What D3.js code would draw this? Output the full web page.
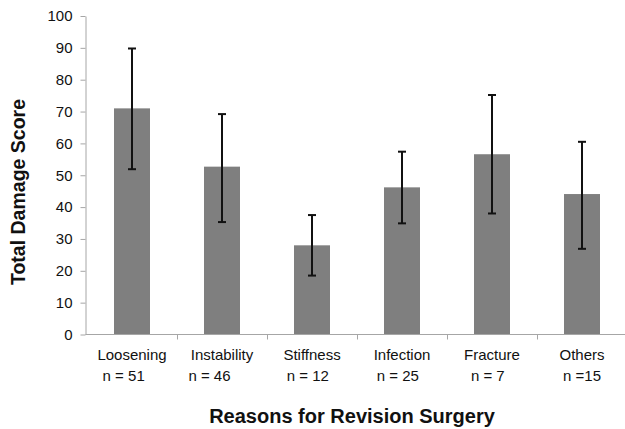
<!DOCTYPE html>
<html>
<head>
<meta charset="utf-8">
<script src="https://cdn.jsdelivr.net/npm/d3@7"></script>
<style>
  body { margin: 0; background: #fff; }
  svg { display: block; font-family: Arial, "Liberation Sans", sans-serif; }
</style>
</head>
<body>
<div id="chart"></div>
<script>
// values
var categories = ["Loosening", "Instability", "Stiffness", "Infection", "Fracture", "Others"];
var countLabels = ["n = 51    ", "n = 46      ", "n = 12  ", "n = 25  ", "n = 7  ", "n =15"];
var meanScore = [71.0, 52.7, 28.0, 46.2, 56.6, 44.1];
var errUpper = [89.8, 69.2, 37.5, 57.4, 75.2, 60.5];
var errLower = [51.9, 35.3, 18.5, 34.9, 38.0, 26.9];
var yTicks = [0, 10, 20, 30, 40, 50, 60, 70, 80, 90, 100];

var width = 625, height = 429;
var margin = { top: 16, right: -2, bottom: 94, left: 87 };
var axisX = 85.5;

var data = categories.map((c, i) => ({
    cat: c, n: countLabels[i], mean: meanScore[i], hi: errUpper[i], lo: errLower[i]
}));

const svg = d3.select("#chart").append("svg")
    .attr("width", width)
    .attr("height", height);

var x = d3.scaleBand()
    .domain(categories)
    .range([margin.left, width - margin.right])
    .paddingInner(0.6)
    .paddingOuter(0.3);

var y = d3.scaleLinear()
    .domain([0, 100])
    .range([height - margin.bottom - 0.5, margin.top]);

var axisColor = "#a6a6a6";

// bars
svg.append("g")
    .selectAll("rect")
    .data(data)
    .enter().append("rect")
    .attr("x", d => x(d.cat))
    .attr("y", d => y(d.mean))
    .attr("width", x.bandwidth())
    .attr("height", d => y(0) - y(d.mean))
    .attr("fill", "#7f7f7f");

// y axis
var yAxis = svg.append("g")
    .attr("transform", `translate(${axisX},0)`)
    .call(d3.axisLeft(y).tickValues(yTicks).tickSize(5).tickPadding(8).tickSizeOuter(0));
yAxis.select(".domain").attr("stroke", axisColor);
yAxis.selectAll(".tick line").attr("stroke", axisColor);
yAxis.selectAll(".tick text")
    .attr("fill", "#111")
    .style("font-size", "15px");

// x axis line and ticks at band boundaries
var xg = svg.append("g");
xg.append("line")
    .attr("x1", axisX).attr("x2", width)
    .attr("y1", y(0)).attr("y2", y(0))
    .attr("stroke", axisColor);
xg.selectAll("line.tk")
    .data(categories.slice(1))
    .enter().append("line")
    .attr("class", "tk")
    .attr("x1", d => Math.round(x(d) - x.step() * x.paddingInner() / 2) + 0.5)
    .attr("x2", d => Math.round(x(d) - x.step() * x.paddingInner() / 2) + 0.5)
    .attr("y1", y(0)).attr("y2", y(0) + 5)
    .attr("stroke", axisColor);

// category labels (two lines)
var lab = svg.append("g")
    .selectAll("g")
    .data(data)
    .enter().append("g")
    .attr("transform", d => `translate(${x(d.cat) + x.bandwidth() / 2},0)`);
lab.append("text")
    .attr("y", y(0) + 25)
    .attr("text-anchor", "middle")
    .attr("fill", "#111")
    .style("font-size", "15px")
    .text(d => d.cat);
lab.append("text")
    .attr("y", y(0) + 46)
    .attr("text-anchor", "middle")
    .attr("fill", "#111")
    .style("font-size", "15px")
    .style("white-space", "pre")
    .attr("xml:space", "preserve")
    .text(d => d.n);

// error bars
var eb = svg.append("g")
    .selectAll("g")
    .data(data)
    .enter().append("g")
    .attr("stroke", "#111")
    .attr("stroke-width", 2);
eb.append("line")
    .attr("x1", d => x(d.cat) + x.bandwidth() / 2)
    .attr("x2", d => x(d.cat) + x.bandwidth() / 2)
    .attr("y1", d => y(d.hi))
    .attr("y2", d => y(d.lo));
eb.append("line")
    .attr("x1", d => x(d.cat) + x.bandwidth() / 2 - 4)
    .attr("x2", d => x(d.cat) + x.bandwidth() / 2 + 4)
    .attr("y1", d => y(d.hi))
    .attr("y2", d => y(d.hi));
eb.append("line")
    .attr("x1", d => x(d.cat) + x.bandwidth() / 2 - 4)
    .attr("x2", d => x(d.cat) + x.bandwidth() / 2 + 4)
    .attr("y1", d => y(d.lo))
    .attr("y2", d => y(d.lo));

// axis titles
svg.append("text")
    .attr("transform", "translate(25,192) rotate(-90)")
    .attr("text-anchor", "middle")
    .attr("fill", "#111")
    .style("font-size", "19.5px")
    .style("font-weight", "bold")
    .text("Total Damage Score");

svg.append("text")
    .attr("x", 352)
    .attr("y", 423)
    .attr("text-anchor", "middle")
    .attr("fill", "#111")
    .style("font-size", "20px")
    .style("font-weight", "bold")
    .text("Reasons for Revision Surgery");
</script>
</body>
</html>
